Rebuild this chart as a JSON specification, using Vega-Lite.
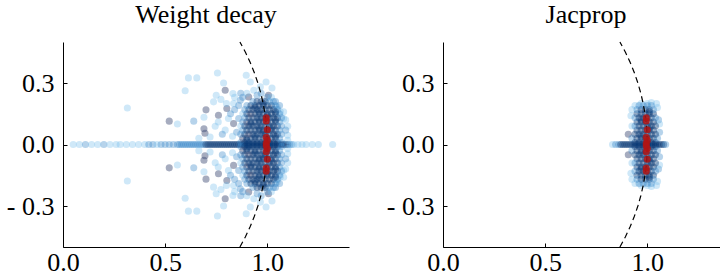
{
"$schema":"https://vega.github.io/schema/vega-lite/v6.json",
"padding":{"left":6,"top":2,"right":0,"bottom":0},
"background":"white",
"config":{"view":{"stroke":null},"font":"Liberation Serif, Times New Roman, DejaVu Serif, serif","concat":{"spacing":37},
"title":{"fontSize":26,"font":"Liberation Serif, Times New Roman, DejaVu Serif, serif","fontWeight":"normal","color":"black","baseline":"alphabetic","offset":11.5,"anchor":"middle"}},
"datasets":{
"circle":[{"x":0.86603,"y":-0.5},{"x":0.89303,"y":-0.45},{"x":0.91652,"y":-0.4},{"x":0.93675,"y":-0.35},{"x":0.95394,"y":-0.3},{"x":0.96825,"y":-0.25},{"x":0.9798,"y":-0.2},{"x":0.98869,"y":-0.15},{"x":0.99499,"y":-0.1},{"x":0.99875,"y":-0.05},{"x":1,"y":0},{"x":0.99875,"y":0.05},{"x":0.99499,"y":0.1},{"x":0.98869,"y":0.15},{"x":0.9798,"y":0.2},{"x":0.96825,"y":0.25},{"x":0.95394,"y":0.3},{"x":0.93675,"y":0.35},{"x":0.91652,"y":0.4},{"x":0.89303,"y":0.45},{"x":0.86603,"y":0.5}],
"red":[{"x":0.995,"y":0.13},{"x":0.995,"y":0.115},{"x":1.0,"y":0.072},{"x":0.995,"y":0.035},{"x":1.0,"y":0.02},{"x":0.995,"y":0.006},{"x":0.995,"y":-0.006},{"x":1.0,"y":-0.02},{"x":0.995,"y":-0.035},{"x":1.0,"y":-0.072},{"x":0.995,"y":-0.115},{"x":0.995,"y":-0.13}],
"wd":[
{"x":0.05,"y":0,"c":0},{"x":0.08,"y":0,"c":0},{"x":0.11,"y":0,"c":1},{"x":0.14,"y":0,"c":0},{"x":0.17,"y":0,"c":0},{"x":0.2,"y":0,"c":1},{"x":0.23,"y":0,"c":0},{"x":0.26,"y":0,"c":0},{"x":0.28,"y":0,"c":0},{"x":0.31,"y":0,"c":0},{"x":0.34,"y":0,"c":0},{"x":0.37,"y":0,"c":0},{"x":0.4,"y":0,"c":0},{"x":0.42,"y":0,"c":1},{"x":0.44,"y":0,"c":1},{"x":0.46,"y":0,"c":0},{"x":0.48,"y":0,"c":1},{"x":0.5,"y":0,"c":1},{"x":0.52,"y":0,"c":1},{"x":0.54,"y":0,"c":1},
{"x":0.56,"y":0,"c":1},{"x":0.57,"y":0,"c":1},{"x":0.58,"y":0,"c":1},{"x":0.59,"y":0,"c":1},{"x":0.6,"y":0,"c":1},{"x":0.61,"y":0,"c":1},{"x":0.62,"y":0,"c":1},{"x":0.63,"y":0,"c":1},{"x":0.64,"y":0,"c":1},{"x":0.65,"y":0,"c":1},{"x":0.66,"y":0,"c":1},{"x":0.67,"y":0,"c":1},{"x":0.68,"y":0,"c":1},{"x":0.69,"y":0,"c":1},
{"x":0.7,"y":0,"c":2},{"x":0.71,"y":0,"c":2},{"x":0.72,"y":0,"c":2},{"x":0.73,"y":0,"c":2},{"x":0.74,"y":0,"c":2},{"x":0.75,"y":0,"c":2},{"x":0.76,"y":0,"c":2},{"x":0.77,"y":0,"c":2},{"x":0.78,"y":0,"c":2},{"x":0.79,"y":0,"c":2},{"x":0.8,"y":0,"c":2},{"x":0.81,"y":0,"c":2},{"x":0.82,"y":0,"c":2},{"x":0.83,"y":0,"c":2},{"x":0.84,"y":0,"c":2},{"x":0.85,"y":0,"c":2},{"x":0.86,"y":0,"c":2},{"x":0.87,"y":0,"c":2},{"x":0.88,"y":0,"c":2},{"x":0.89,"y":0,"c":2},{"x":0.9,"y":0,"c":2},{"x":0.91,"y":0,"c":2},{"x":0.92,"y":0,"c":2},{"x":0.93,"y":0,"c":2},{"x":0.94,"y":0,"c":2},{"x":0.95,"y":0,"c":2},{"x":0.96,"y":0,"c":2},{"x":0.97,"y":0,"c":2},{"x":0.98,"y":0,"c":2},{"x":0.99,"y":0,"c":2},{"x":1.0,"y":0,"c":2},{"x":1.01,"y":0,"c":2},{"x":1.02,"y":0,"c":2},{"x":1.03,"y":0,"c":2},{"x":1.04,"y":0,"c":2},{"x":1.05,"y":0,"c":2},{"x":1.06,"y":0,"c":2},{"x":1.07,"y":0,"c":2},{"x":1.08,"y":0,"c":2},{"x":1.09,"y":0,"c":2},{"x":1.1,"y":0,"c":2},
{"x":1.11,"y":0,"c":1},{"x":1.12,"y":0,"c":1},{"x":1.13,"y":0,"c":0},{"x":1.15,"y":0,"c":0},{"x":1.17,"y":0,"c":0},{"x":1.19,"y":0,"c":0},{"x":1.22,"y":0,"c":0},{"x":1.25,"y":0,"c":0},{"x":1.32,"y":0,"c":0},
{"x":0.614,"y":0.325,"c":0},{"x":0.614,"y":-0.325,"c":0},{"x":0.655,"y":0.325,"c":0},{"x":0.655,"y":-0.325,"c":0},{"x":0.598,"y":0.262,"c":0},{"x":0.598,"y":-0.262,"c":0},{"x":0.315,"y":0.178,"c":0},{"x":0.315,"y":-0.178,"c":0},{"x":0.7,"y":0.169,"c":3},{"x":0.7,"y":-0.169,"c":3},{"x":0.52,"y":0.114,"c":3},{"x":0.52,"y":-0.114,"c":3},{"x":0.56,"y":0.1,"c":0},{"x":0.56,"y":-0.1,"c":0},{"x":0.64,"y":0.114,"c":1},{"x":0.64,"y":-0.114,"c":1},{"x":0.69,"y":0.133,"c":0},{"x":0.69,"y":-0.133,"c":0},{"x":0.69,"y":0.077,"c":3},{"x":0.69,"y":-0.077,"c":3},{"x":0.695,"y":0.055,"c":3},{"x":0.695,"y":-0.055,"c":3},{"x":0.665,"y":0.03,"c":0},{"x":0.665,"y":-0.03,"c":0},
{"x":0.756,"y":0.349,"c":0},{"x":0.756,"y":-0.349,"c":0},{"x":0.897,"y":0.338,"c":0},{"x":0.897,"y":-0.338,"c":0},{"x":0.917,"y":0.305,"c":0},{"x":0.917,"y":-0.305,"c":0},{"x":0.994,"y":0.305,"c":0},{"x":0.994,"y":-0.305,"c":0},{"x":1.023,"y":0.276,"c":0},{"x":1.023,"y":-0.276,"c":0},{"x":1.006,"y":0.24,"c":3},{"x":1.006,"y":-0.24,"c":3},{"x":0.794,"y":0.265,"c":3},{"x":0.794,"y":-0.265,"c":3},{"x":0.786,"y":0.3,"c":0},{"x":0.786,"y":-0.3,"c":0},{"x":0.832,"y":0.249,"c":0},{"x":0.832,"y":-0.249,"c":0},{"x":0.75,"y":0.24,"c":0},{"x":0.75,"y":-0.24,"c":0},{"x":0.737,"y":0.208,"c":0},{"x":0.737,"y":-0.208,"c":0},{"x":0.773,"y":0.22,"c":0},{"x":0.773,"y":-0.22,"c":0},{"x":0.802,"y":0.176,"c":3},{"x":0.802,"y":-0.176,"c":3},{"x":0.835,"y":0.2,"c":0},{"x":0.835,"y":-0.2,"c":0},{"x":0.868,"y":0.216,"c":1},{"x":0.868,"y":-0.216,"c":1},{"x":0.909,"y":0.232,"c":3},{"x":0.909,"y":-0.232,"c":3},{"x":0.934,"y":0.265,"c":0},{"x":0.934,"y":-0.265,"c":0},{"x":0.966,"y":0.281,"c":0},{"x":0.966,"y":-0.281,"c":0},{"x":1.048,"y":0.183,"c":0},{"x":1.048,"y":-0.183,"c":0},{"x":1.064,"y":0.159,"c":0},{"x":1.064,"y":-0.159,"c":0},{"x":1.08,"y":0.127,"c":0},{"x":1.08,"y":-0.127,"c":0},{"x":1.1,"y":0.089,"c":0},{"x":1.1,"y":-0.089,"c":0},{"x":1.1,"y":0.045,"c":0},{"x":1.1,"y":-0.045,"c":0},{"x":0.761,"y":0.143,"c":3},{"x":0.761,"y":-0.143,"c":3},{"x":0.745,"y":0.089,"c":0},{"x":0.745,"y":-0.089,"c":0},{"x":0.72,"y":0.037,"c":0},{"x":0.72,"y":-0.037,"c":0},{"x":0.794,"y":0.07,"c":0},{"x":0.794,"y":-0.07,"c":0},{"x":0.835,"y":0.102,"c":3},{"x":0.835,"y":-0.102,"c":3},{"x":0.86,"y":0.127,"c":1},{"x":0.86,"y":-0.127,"c":1},{"x":0.81,"y":0.127,"c":0},{"x":0.81,"y":-0.127,"c":0},
{"x":0.82,"y":0.15,"c":1},{"x":0.82,"y":-0.15,"c":1},{"x":0.84,"y":0.17,"c":1},{"x":0.84,"y":-0.17,"c":1},{"x":0.85,"y":0.06,"c":1},{"x":0.85,"y":-0.06,"c":1},{"x":0.83,"y":0.04,"c":0},{"x":0.83,"y":-0.04,"c":0},{"x":0.86,"y":0.19,"c":1},{"x":0.86,"y":-0.19,"c":1},{"x":0.84,"y":0.23,"c":0},{"x":0.84,"y":-0.23,"c":0},{"x":0.87,"y":0.25,"c":1},{"x":0.87,"y":-0.25,"c":1},{"x":0.88,"y":0.23,"c":1},{"x":0.88,"y":-0.23,"c":1},{"x":0.9,"y":0.25,"c":0},{"x":0.9,"y":-0.25,"c":0},{"x":0.95,"y":0.24,"c":1},{"x":0.95,"y":-0.24,"c":1},{"x":0.97,"y":0.25,"c":1},{"x":0.97,"y":-0.25,"c":1},{"x":1.0,"y":0.23,"c":1},{"x":1.0,"y":-0.23,"c":1},{"x":1.02,"y":0.23,"c":0},{"x":1.02,"y":-0.23,"c":0},{"x":1.04,"y":0.21,"c":1},{"x":1.04,"y":-0.21,"c":1},{"x":1.06,"y":0.19,"c":1},{"x":1.06,"y":-0.19,"c":1},{"x":1.08,"y":0.16,"c":0},{"x":1.08,"y":-0.16,"c":0},{"x":1.09,"y":0.12,"c":0},{"x":1.09,"y":-0.12,"c":0},{"x":1.09,"y":0.07,"c":1},{"x":1.09,"y":-0.07,"c":1},{"x":1.1,"y":0.02,"c":0},{"x":1.1,"y":-0.02,"c":0},{"x":0.78,"y":0.05,"c":1},{"x":0.78,"y":-0.05,"c":1},{"x":0.76,"y":0.11,"c":0},{"x":0.76,"y":-0.11,"c":0},{"x":0.8,"y":0.2,"c":0},{"x":0.8,"y":-0.2,"c":0},
{"x":0.87,"y":0.01,"c":1},{"x":0.89,"y":0.01,"c":2},{"x":0.91,"y":0.01,"c":2},{"x":0.93,"y":0.01,"c":2},{"x":0.95,"y":0.01,"c":2},{"x":0.97,"y":0.01,"c":2},{"x":0.99,"y":0.01,"c":2},{"x":1.01,"y":0.01,"c":2},{"x":1.03,"y":0.01,"c":2},{"x":1.05,"y":0.01,"c":2},{"x":1.07,"y":0.01,"c":1},
{"x":0.87,"y":-0.01,"c":1},{"x":0.89,"y":-0.01,"c":2},{"x":0.91,"y":-0.01,"c":2},{"x":0.93,"y":-0.01,"c":2},{"x":0.95,"y":-0.01,"c":2},{"x":0.97,"y":-0.01,"c":2},{"x":0.99,"y":-0.01,"c":2},{"x":1.01,"y":-0.01,"c":2},{"x":1.03,"y":-0.01,"c":2},{"x":1.05,"y":-0.01,"c":2},{"x":1.07,"y":-0.01,"c":1},
{"x":0.88,"y":0.03,"c":3},{"x":0.9,"y":0.03,"c":2},{"x":0.92,"y":0.03,"c":2},{"x":0.94,"y":0.03,"c":2},{"x":0.96,"y":0.03,"c":2},{"x":0.98,"y":0.03,"c":2},{"x":1.0,"y":0.03,"c":2},{"x":1.02,"y":0.03,"c":2},{"x":1.04,"y":0.03,"c":2},{"x":1.06,"y":0.03,"c":1},
{"x":0.88,"y":-0.03,"c":3},{"x":0.9,"y":-0.03,"c":2},{"x":0.92,"y":-0.03,"c":2},{"x":0.94,"y":-0.03,"c":2},{"x":0.96,"y":-0.03,"c":2},{"x":0.98,"y":-0.03,"c":2},{"x":1.0,"y":-0.03,"c":2},{"x":1.02,"y":-0.03,"c":2},{"x":1.04,"y":-0.03,"c":2},{"x":1.06,"y":-0.03,"c":1},
{"x":0.87,"y":0.05,"c":1},{"x":0.89,"y":0.05,"c":2},{"x":0.91,"y":0.05,"c":3},{"x":0.93,"y":0.05,"c":2},{"x":0.95,"y":0.05,"c":2},{"x":0.97,"y":0.05,"c":2},{"x":0.99,"y":0.05,"c":2},{"x":1.01,"y":0.05,"c":2},{"x":1.03,"y":0.05,"c":2},{"x":1.05,"y":0.05,"c":2},{"x":1.07,"y":0.05,"c":1},
{"x":0.87,"y":-0.05,"c":1},{"x":0.89,"y":-0.05,"c":2},{"x":0.91,"y":-0.05,"c":3},{"x":0.93,"y":-0.05,"c":2},{"x":0.95,"y":-0.05,"c":2},{"x":0.97,"y":-0.05,"c":2},{"x":0.99,"y":-0.05,"c":2},{"x":1.01,"y":-0.05,"c":2},{"x":1.03,"y":-0.05,"c":2},{"x":1.05,"y":-0.05,"c":2},{"x":1.07,"y":-0.05,"c":1},
{"x":0.88,"y":0.07,"c":1},{"x":0.9,"y":0.07,"c":2},{"x":0.92,"y":0.07,"c":2},{"x":0.94,"y":0.07,"c":2},{"x":0.96,"y":0.07,"c":2},{"x":0.98,"y":0.07,"c":2},{"x":1.0,"y":0.07,"c":2},{"x":1.02,"y":0.07,"c":2},{"x":1.04,"y":0.07,"c":2},{"x":1.06,"y":0.07,"c":1},
{"x":0.88,"y":-0.07,"c":1},{"x":0.9,"y":-0.07,"c":2},{"x":0.92,"y":-0.07,"c":2},{"x":0.94,"y":-0.07,"c":2},{"x":0.96,"y":-0.07,"c":2},{"x":0.98,"y":-0.07,"c":2},{"x":1.0,"y":-0.07,"c":2},{"x":1.02,"y":-0.07,"c":2},{"x":1.04,"y":-0.07,"c":2},{"x":1.06,"y":-0.07,"c":1},
{"x":0.87,"y":0.09,"c":0},{"x":0.89,"y":0.09,"c":2},{"x":0.91,"y":0.09,"c":2},{"x":0.93,"y":0.09,"c":2},{"x":0.95,"y":0.09,"c":2},{"x":0.97,"y":0.09,"c":2},{"x":0.99,"y":0.09,"c":2},{"x":1.01,"y":0.09,"c":2},{"x":1.03,"y":0.09,"c":2},{"x":1.05,"y":0.09,"c":2},{"x":1.07,"y":0.09,"c":1},
{"x":0.87,"y":-0.09,"c":0},{"x":0.89,"y":-0.09,"c":2},{"x":0.91,"y":-0.09,"c":2},{"x":0.93,"y":-0.09,"c":2},{"x":0.95,"y":-0.09,"c":2},{"x":0.97,"y":-0.09,"c":2},{"x":0.99,"y":-0.09,"c":2},{"x":1.01,"y":-0.09,"c":2},{"x":1.03,"y":-0.09,"c":2},{"x":1.05,"y":-0.09,"c":2},{"x":1.07,"y":-0.09,"c":1},
{"x":0.88,"y":0.11,"c":1},{"x":0.9,"y":0.11,"c":3},{"x":0.92,"y":0.11,"c":2},{"x":0.94,"y":0.11,"c":2},{"x":0.96,"y":0.11,"c":2},{"x":0.98,"y":0.11,"c":2},{"x":1.0,"y":0.11,"c":2},{"x":1.02,"y":0.11,"c":2},{"x":1.04,"y":0.11,"c":2},{"x":1.06,"y":0.11,"c":1},
{"x":0.88,"y":-0.11,"c":1},{"x":0.9,"y":-0.11,"c":3},{"x":0.92,"y":-0.11,"c":2},{"x":0.94,"y":-0.11,"c":2},{"x":0.96,"y":-0.11,"c":2},{"x":0.98,"y":-0.11,"c":2},{"x":1.0,"y":-0.11,"c":2},{"x":1.02,"y":-0.11,"c":2},{"x":1.04,"y":-0.11,"c":2},{"x":1.06,"y":-0.11,"c":1},
{"x":0.89,"y":0.13,"c":1},{"x":0.91,"y":0.13,"c":2},{"x":0.93,"y":0.13,"c":2},{"x":0.95,"y":0.13,"c":2},{"x":0.97,"y":0.13,"c":2},{"x":0.99,"y":0.13,"c":2},{"x":1.01,"y":0.13,"c":2},{"x":1.03,"y":0.13,"c":2},{"x":1.05,"y":0.13,"c":2},{"x":1.07,"y":0.13,"c":1},
{"x":0.89,"y":-0.13,"c":1},{"x":0.91,"y":-0.13,"c":2},{"x":0.93,"y":-0.13,"c":2},{"x":0.95,"y":-0.13,"c":2},{"x":0.97,"y":-0.13,"c":2},{"x":0.99,"y":-0.13,"c":2},{"x":1.01,"y":-0.13,"c":2},{"x":1.03,"y":-0.13,"c":2},{"x":1.05,"y":-0.13,"c":2},{"x":1.07,"y":-0.13,"c":1},
{"x":0.88,"y":0.15,"c":0},{"x":0.9,"y":0.15,"c":2},{"x":0.92,"y":0.15,"c":3},{"x":0.94,"y":0.15,"c":2},{"x":0.96,"y":0.15,"c":2},{"x":0.98,"y":0.15,"c":2},{"x":1.0,"y":0.15,"c":2},{"x":1.02,"y":0.15,"c":2},{"x":1.04,"y":0.15,"c":2},{"x":1.06,"y":0.15,"c":1},
{"x":0.88,"y":-0.15,"c":0},{"x":0.9,"y":-0.15,"c":2},{"x":0.92,"y":-0.15,"c":3},{"x":0.94,"y":-0.15,"c":2},{"x":0.96,"y":-0.15,"c":2},{"x":0.98,"y":-0.15,"c":2},{"x":1.0,"y":-0.15,"c":2},{"x":1.02,"y":-0.15,"c":2},{"x":1.04,"y":-0.15,"c":2},{"x":1.06,"y":-0.15,"c":1},
{"x":0.89,"y":0.17,"c":1},{"x":0.91,"y":0.17,"c":2},{"x":0.93,"y":0.17,"c":2},{"x":0.95,"y":0.17,"c":2},{"x":0.97,"y":0.17,"c":2},{"x":0.99,"y":0.17,"c":2},{"x":1.01,"y":0.17,"c":2},{"x":1.03,"y":0.17,"c":2},{"x":1.05,"y":0.17,"c":1},
{"x":0.89,"y":-0.17,"c":1},{"x":0.91,"y":-0.17,"c":2},{"x":0.93,"y":-0.17,"c":2},{"x":0.95,"y":-0.17,"c":2},{"x":0.97,"y":-0.17,"c":2},{"x":0.99,"y":-0.17,"c":2},{"x":1.01,"y":-0.17,"c":2},{"x":1.03,"y":-0.17,"c":2},{"x":1.05,"y":-0.17,"c":1},
{"x":0.9,"y":0.19,"c":1},{"x":0.92,"y":0.19,"c":2},{"x":0.94,"y":0.19,"c":2},{"x":0.96,"y":0.19,"c":2},{"x":0.98,"y":0.19,"c":2},{"x":1.0,"y":0.19,"c":2},{"x":1.02,"y":0.19,"c":2},{"x":1.04,"y":0.19,"c":1},
{"x":0.9,"y":-0.19,"c":1},{"x":0.92,"y":-0.19,"c":2},{"x":0.94,"y":-0.19,"c":2},{"x":0.96,"y":-0.19,"c":2},{"x":0.98,"y":-0.19,"c":2},{"x":1.0,"y":-0.19,"c":2},{"x":1.02,"y":-0.19,"c":2},{"x":1.04,"y":-0.19,"c":1},
{"x":0.93,"y":0.21,"c":1},{"x":0.95,"y":0.21,"c":2},{"x":0.97,"y":0.21,"c":2},{"x":0.99,"y":0.21,"c":2},{"x":1.01,"y":0.21,"c":1},{"x":1.03,"y":0.21,"c":1},
{"x":0.93,"y":-0.21,"c":1},{"x":0.95,"y":-0.21,"c":2},{"x":0.97,"y":-0.21,"c":2},{"x":0.99,"y":-0.21,"c":2},{"x":1.01,"y":-0.21,"c":1},{"x":1.03,"y":-0.21,"c":1},
{"x":0.9,"y":0.02,"c":2},{"x":0.94,"y":0.04,"c":2},{"x":0.98,"y":0.06,"c":2},{"x":1.02,"y":0.08,"c":2},{"x":0.92,"y":0.1,"c":2},{"x":0.96,"y":0.12,"c":2},{"x":1.0,"y":0.14,"c":2},{"x":1.04,"y":0.16,"c":2},{"x":0.94,"y":0.18,"c":2},{"x":0.98,"y":0.2,"c":2},
{"x":0.9,"y":-0.02,"c":2},{"x":0.94,"y":-0.04,"c":2},{"x":0.98,"y":-0.06,"c":2},{"x":1.02,"y":-0.08,"c":2},{"x":0.92,"y":-0.1,"c":2},{"x":0.96,"y":-0.12,"c":2},{"x":1.0,"y":-0.14,"c":2},{"x":1.04,"y":-0.16,"c":2},{"x":0.94,"y":-0.18,"c":2},{"x":0.98,"y":-0.2,"c":2},
{"x":1.04,"y":0.04,"c":2},{"x":0.96,"y":0.08,"c":2},{"x":1.04,"y":0.12,"c":2},{"x":0.96,"y":0.16,"c":2},{"x":1.04,"y":-0.04,"c":2},{"x":0.96,"y":-0.08,"c":2},{"x":1.04,"y":-0.12,"c":2},{"x":0.96,"y":-0.16,"c":2}
],
"jp":[
{"x":0.83,"y":0,"c":0},{"x":0.845,"y":0,"c":1},{"x":0.86,"y":0,"c":1},{"x":0.87,"y":0,"c":2},{"x":0.88,"y":0,"c":2},{"x":0.89,"y":0,"c":2},{"x":0.9,"y":0,"c":2},{"x":0.91,"y":0,"c":2},{"x":0.92,"y":0,"c":2},{"x":0.93,"y":0,"c":2},{"x":0.94,"y":0,"c":2},{"x":0.95,"y":0,"c":2},{"x":0.96,"y":0,"c":2},{"x":0.97,"y":0,"c":2},{"x":0.98,"y":0,"c":2},{"x":0.99,"y":0,"c":2},{"x":1.0,"y":0,"c":2},{"x":1.01,"y":0,"c":2},{"x":1.02,"y":0,"c":2},{"x":1.03,"y":0,"c":2},{"x":1.04,"y":0,"c":2},{"x":1.05,"y":0,"c":2},{"x":1.06,"y":0,"c":2},{"x":1.07,"y":0,"c":2},{"x":1.08,"y":0,"c":2},{"x":1.09,"y":0,"c":1},
{"x":0.907,"y":0.05,"c":3},{"x":0.907,"y":-0.05,"c":3},
{"x":0.925,"y":0.17,"c":0},{"x":0.925,"y":-0.17,"c":0},{"x":0.94,"y":0.19,"c":0},{"x":0.94,"y":-0.19,"c":0},{"x":1.05,"y":0.18,"c":0},{"x":1.05,"y":-0.18,"c":0},{"x":1.045,"y":0.2,"c":0},{"x":1.045,"y":-0.2,"c":0},{"x":0.925,"y":0.09,"c":0},{"x":0.925,"y":-0.09,"c":0},{"x":1.06,"y":0.06,"c":1},{"x":1.06,"y":-0.06,"c":1},{"x":1.055,"y":0.12,"c":1},{"x":1.055,"y":-0.12,"c":1},{"x":0.92,"y":0.14,"c":0},{"x":0.92,"y":-0.14,"c":0},{"x":1.0,"y":0.2,"c":0},{"x":1.0,"y":-0.2,"c":0},{"x":0.97,"y":0.2,"c":0},{"x":0.97,"y":-0.2,"c":0},{"x":1.02,"y":0.205,"c":0},{"x":1.02,"y":-0.205,"c":0},{"x":0.925,"y":0.03,"c":1},{"x":0.925,"y":-0.03,"c":1},{"x":1.06,"y":0.1,"c":0},{"x":1.06,"y":-0.1,"c":0},
{"x":0.94,"y":0.01,"c":2},{"x":0.96,"y":0.01,"c":2},{"x":0.98,"y":0.01,"c":2},{"x":1.0,"y":0.01,"c":2},{"x":1.02,"y":0.01,"c":2},{"x":1.04,"y":0.01,"c":2},
{"x":0.94,"y":-0.01,"c":2},{"x":0.96,"y":-0.01,"c":2},{"x":0.98,"y":-0.01,"c":2},{"x":1.0,"y":-0.01,"c":2},{"x":1.02,"y":-0.01,"c":2},{"x":1.04,"y":-0.01,"c":2},
{"x":0.95,"y":0.03,"c":2},{"x":0.97,"y":0.03,"c":2},{"x":0.99,"y":0.03,"c":2},{"x":1.01,"y":0.03,"c":2},{"x":1.03,"y":0.03,"c":2},{"x":1.05,"y":0.03,"c":1},
{"x":0.95,"y":-0.03,"c":2},{"x":0.97,"y":-0.03,"c":2},{"x":0.99,"y":-0.03,"c":2},{"x":1.01,"y":-0.03,"c":2},{"x":1.03,"y":-0.03,"c":2},{"x":1.05,"y":-0.03,"c":1},
{"x":0.94,"y":0.05,"c":2},{"x":0.96,"y":0.05,"c":2},{"x":0.98,"y":0.05,"c":2},{"x":1.0,"y":0.05,"c":2},{"x":1.02,"y":0.05,"c":2},{"x":1.04,"y":0.05,"c":2},
{"x":0.94,"y":-0.05,"c":2},{"x":0.96,"y":-0.05,"c":2},{"x":0.98,"y":-0.05,"c":2},{"x":1.0,"y":-0.05,"c":2},{"x":1.02,"y":-0.05,"c":2},{"x":1.04,"y":-0.05,"c":2},
{"x":0.95,"y":0.07,"c":2},{"x":0.97,"y":0.07,"c":2},{"x":0.99,"y":0.07,"c":2},{"x":1.01,"y":0.07,"c":2},{"x":1.03,"y":0.07,"c":2},
{"x":0.95,"y":-0.07,"c":2},{"x":0.97,"y":-0.07,"c":2},{"x":0.99,"y":-0.07,"c":2},{"x":1.01,"y":-0.07,"c":2},{"x":1.03,"y":-0.07,"c":2},
{"x":0.94,"y":0.09,"c":1},{"x":0.96,"y":0.09,"c":2},{"x":0.98,"y":0.09,"c":2},{"x":1.0,"y":0.09,"c":2},{"x":1.02,"y":0.09,"c":2},{"x":1.04,"y":0.09,"c":2},
{"x":0.94,"y":-0.09,"c":1},{"x":0.96,"y":-0.09,"c":2},{"x":0.98,"y":-0.09,"c":2},{"x":1.0,"y":-0.09,"c":2},{"x":1.02,"y":-0.09,"c":2},{"x":1.04,"y":-0.09,"c":2},
{"x":0.95,"y":0.11,"c":2},{"x":0.97,"y":0.11,"c":2},{"x":0.99,"y":0.11,"c":2},{"x":1.01,"y":0.11,"c":2},{"x":1.03,"y":0.11,"c":2},
{"x":0.95,"y":-0.11,"c":2},{"x":0.97,"y":-0.11,"c":2},{"x":0.99,"y":-0.11,"c":2},{"x":1.01,"y":-0.11,"c":2},{"x":1.03,"y":-0.11,"c":2},
{"x":0.94,"y":0.13,"c":1},{"x":0.96,"y":0.13,"c":2},{"x":0.98,"y":0.13,"c":2},{"x":1.0,"y":0.13,"c":2},{"x":1.02,"y":0.13,"c":2},{"x":1.04,"y":0.13,"c":1},
{"x":0.94,"y":-0.13,"c":1},{"x":0.96,"y":-0.13,"c":2},{"x":0.98,"y":-0.13,"c":2},{"x":1.0,"y":-0.13,"c":2},{"x":1.02,"y":-0.13,"c":2},{"x":1.04,"y":-0.13,"c":1},
{"x":0.95,"y":0.15,"c":2},{"x":0.97,"y":0.15,"c":2},{"x":0.99,"y":0.15,"c":2},{"x":1.01,"y":0.15,"c":2},{"x":1.03,"y":0.15,"c":2},
{"x":0.95,"y":-0.15,"c":2},{"x":0.97,"y":-0.15,"c":2},{"x":0.99,"y":-0.15,"c":2},{"x":1.01,"y":-0.15,"c":2},{"x":1.03,"y":-0.15,"c":2},
{"x":0.95,"y":0.17,"c":1},{"x":0.97,"y":0.17,"c":2},{"x":0.99,"y":0.17,"c":2},{"x":1.01,"y":0.17,"c":2},{"x":1.03,"y":0.17,"c":1},
{"x":0.95,"y":-0.17,"c":1},{"x":0.97,"y":-0.17,"c":2},{"x":0.99,"y":-0.17,"c":2},{"x":1.01,"y":-0.17,"c":2},{"x":1.03,"y":-0.17,"c":1},
{"x":0.96,"y":0.19,"c":1},{"x":0.98,"y":0.19,"c":1},{"x":1.0,"y":0.19,"c":1},{"x":1.02,"y":0.19,"c":1},
{"x":0.96,"y":-0.19,"c":1},{"x":0.98,"y":-0.19,"c":1},{"x":1.0,"y":-0.19,"c":1},{"x":1.02,"y":-0.19,"c":1},
{"x":0.97,"y":0.04,"c":2},{"x":1.01,"y":0.08,"c":2},{"x":0.97,"y":0.12,"c":2},{"x":1.01,"y":0.16,"c":2},{"x":0.97,"y":-0.04,"c":2},{"x":1.01,"y":-0.08,"c":2},{"x":0.97,"y":-0.12,"c":2},{"x":1.01,"y":-0.16,"c":2}
]
},
"hconcat":[
{"title":{"text":"Weight decay"},"width":286,"height":205,
"encoding":{
"x":{"field":"x","type":"quantitative","scale":{"domain":[0,1.4],"nice":false,"zero":false},"axis":{"title":null,"grid":false,"values":[0,0.5,1],"format":".1f","labelFlush":false,"labelFont":"Liberation Serif, Times New Roman, DejaVu Serif, serif","labelFontSize":26,"labelColor":"black","domainColor":"black","domainWidth":1,"tickColor":"black","tickSize":-4,"labelPadding":6}},
"y":{"field":"y","type":"quantitative","scale":{"domain":[-0.5,0.5],"nice":false,"zero":false},"axis":{"title":null,"grid":false,"values":[-0.3,0,0.3],"labelExpr":"datum.value < 0 ? '- ' + format(-datum.value, '.1f') : format(datum.value, '.1f')","labelFlush":false,"labelFont":"Liberation Serif, Times New Roman, DejaVu Serif, serif","labelFontSize":26,"labelColor":"black","domainColor":"black","domainWidth":1,"tickColor":"black","tickSize":-4,"labelPadding":13}}},
"layer":[
{"data":{"name":"wd"},"mark":{"type":"circle","size":50},"encoding":{"color":{"field":"c","type":"ordinal","scale":{"domain":[0,1,2,3],"range":["#6cb8ea","#3a88c8","#073774","#3a4670"]},"legend":null},"opacity":{"field":"c","type":"ordinal","scale":{"domain":[0,1,2,3],"range":[0.33,0.45,0.72,0.3]},"legend":null}}},
{"data":{"name":"circle"},"mark":{"type":"line","color":"black","strokeDash":[6,4],"strokeWidth":1.2},"encoding":{"order":{"field":"y","type":"quantitative"}}},
{"data":{"name":"red"},"mark":{"type":"circle","size":50,"opacity":0.85,"color":"#b01515"},"encoding":{}}
]},
{"title":{"text":"Jacprop"},"width":286,"height":205,
"encoding":{
"x":{"field":"x","type":"quantitative","scale":{"domain":[0,1.4],"nice":false,"zero":false},"axis":{"title":null,"grid":false,"values":[0,0.5,1],"format":".1f","labelFlush":false,"labelFont":"Liberation Serif, Times New Roman, DejaVu Serif, serif","labelFontSize":26,"labelColor":"black","domainColor":"black","domainWidth":1,"tickColor":"black","tickSize":-4,"labelPadding":6}},
"y":{"field":"y","type":"quantitative","scale":{"domain":[-0.5,0.5],"nice":false,"zero":false},"axis":{"title":null,"grid":false,"values":[-0.3,0,0.3],"labelExpr":"datum.value < 0 ? '- ' + format(-datum.value, '.1f') : format(datum.value, '.1f')","labelFlush":false,"labelFont":"Liberation Serif, Times New Roman, DejaVu Serif, serif","labelFontSize":26,"labelColor":"black","domainColor":"black","domainWidth":1,"tickColor":"black","tickSize":-4,"labelPadding":13}}},
"layer":[
{"data":{"name":"jp"},"mark":{"type":"circle","size":50},"encoding":{"color":{"field":"c","type":"ordinal","scale":{"domain":[0,1,2,3],"range":["#6cb8ea","#3a88c8","#073774","#3a4670"]},"legend":null},"opacity":{"field":"c","type":"ordinal","scale":{"domain":[0,1,2,3],"range":[0.33,0.45,0.72,0.3]},"legend":null}}},
{"data":{"name":"circle"},"mark":{"type":"line","color":"black","strokeDash":[6,4],"strokeWidth":1.2},"encoding":{"order":{"field":"y","type":"quantitative"}}},
{"data":{"name":"red"},"mark":{"type":"circle","size":50,"opacity":0.85,"color":"#b01515"},"encoding":{}}
]}
]
}
